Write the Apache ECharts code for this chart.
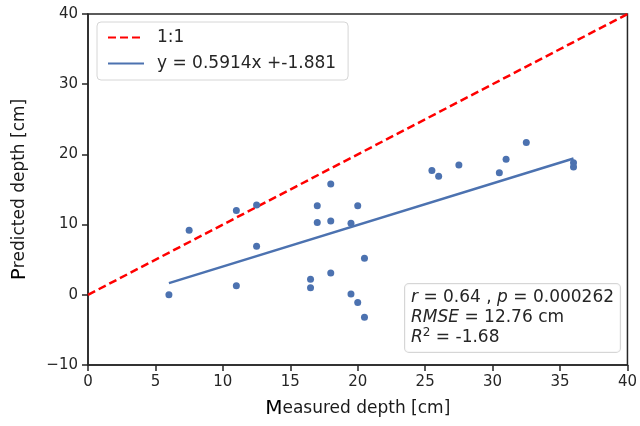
<!DOCTYPE html>
<html>
<head>
<meta charset="utf-8">
<script src="https://cdn.jsdelivr.net/npm/echarts@6/dist/echarts.min.js"></script>
<style>
  html, body { margin: 0; padding: 0; background: #fff; }
  #main { width: 640px; height: 426px; }
</style>
</head>
<body>
<div id="main"></div>
<script>
var measured = [6, 7.5, 11, 11, 12.5, 12.5, 16.5, 16.5, 17, 17, 18, 18, 18, 19.5, 19.5, 20, 20, 20.5, 20.5,
  25.5, 26, 27.5, 30.5, 31, 32.5, 36, 36];
var predicted = [0, 9.2, 12, 1.3, 12.8, 6.9, 2.2, 1.0, 12.7, 10.3, 15.8, 10.5, 3.1, 10.2, 0.1, 12.7, -1.1, 5.2, -3.2,
  17.7, 16.9, 18.5, 17.4, 19.3, 21.7, 18.8, 18.2];

// 1:1 reference and fitted line end points
var oneToOne = [[0, 0], [40, 40]];
var fitLine = [[6, 1.67], [36, 19.41]];

var xTicks = [0, 40, 5];   // min, max, interval
var yTicks = [-10, 40, 10];

var statsText = '{i|r} = 0.64 , {i|p} = 0.000262\n{i|RMSE} = 12.76 cm\n{i|R}{sup|2} = -1.68';

var points = measured.map(function (x, i) { return [x, predicted[i]]; });

var dark = '#262626';
var font = 'DejaVu Sans';

var chart = echarts.init(document.getElementById('main'), null, { renderer: 'canvas' });

var option = {
  backgroundColor: '#ffffff',
  animation: false,
  textStyle: { fontFamily: font },
  grid: {
    left: 88, right: 12, top: 14, bottom: 61,
    show: true, borderColor: dark, borderWidth: 1.5
  },
  legend: {
    orient: 'vertical',
    left: 97, top: 22,
    padding: [7, 12, 8, 10],
    itemGap: 9,
    itemWidth: 36,
    itemHeight: 14,
    itemStyle: { opacity: 0 },
    borderColor: '#d6d6d6',
    borderWidth: 1,
    borderRadius: 4,
    backgroundColor: 'rgba(255,255,255,0.8)',
    textStyle: { fontFamily: font, fontSize: 17, color: dark, padding: [0, 0, 0, 8] },
    data: ['1:1', 'y = 0.5914x +-1.881']
  },
  xAxis: {
    type: 'value',
    min: xTicks[0], max: xTicks[1], interval: xTicks[2],
    name: '{big|M}easured depth [cm]',
    nameLocation: 'middle',
    nameGap: 34,
    nameTextStyle: {
      fontFamily: font, fontSize: 17, color: '#1a1a1a',
      rich: { big: { fontFamily: font, fontSize: 20, color: '#000' } }
    },
    axisLine: { show: true, onZero: false, lineStyle: { color: dark, width: 1.5 } },
    axisTick: { show: true, length: 6, lineStyle: { color: dark, width: 1.5 } },
    axisLabel: { fontFamily: font, fontSize: 15, color: dark, margin: 10 },
    splitLine: { show: false }
  },
  yAxis: {
    type: 'value',
    min: yTicks[0], max: yTicks[1], interval: yTicks[2],
    name: '{big|P}redicted depth [cm]',
    nameLocation: 'middle',
    nameGap: 58,
    nameRotate: 90,
    nameTextStyle: {
      fontFamily: font, fontSize: 17, color: '#1a1a1a',
      rich: { big: { fontFamily: font, fontSize: 20, color: '#000' } }
    },
    axisLine: { show: true, onZero: false, lineStyle: { color: dark, width: 1.5 } },
    axisTick: { show: true, length: 6, lineStyle: { color: dark, width: 1.5 } },
    axisLabel: {
      fontFamily: font, fontSize: 15, color: dark, margin: 10,
      formatter: function (v) { return String(v).replace('-', '\u2212'); }
    },
    splitLine: { show: false }
  },
  series: [
    {
      name: '1:1',
      type: 'line',
      data: oneToOne,
      symbol: 'none',
      lineStyle: { color: '#ff0000', width: 2.5, type: [8, 4] },
      itemStyle: { color: '#ff0000' },
      z: 3
    },
    {
      name: 'y = 0.5914x +-1.881',
      type: 'line',
      data: fitLine,
      symbol: 'none',
      lineStyle: { color: '#4c72b0', width: 2.5 },
      itemStyle: { color: '#4c72b0' },
      z: 3
    },
    {
      name: 'data',
      type: 'scatter',
      data: points,
      symbolSize: 7,
      itemStyle: { color: '#4c72b0', opacity: 1 },
      z: 4
    }
  ],
  graphic: [
    {
      type: 'text',
      left: 404, top: 283,
      z: 10,
      style: {
        text: statsText,
        fontFamily: font,
        fontSize: 17,
        lineHeight: 20,
        fill: dark,
        backgroundColor: 'rgba(255,255,255,0.8)',
        borderColor: '#d6d6d6',
        borderWidth: 1,
        borderRadius: 4,
        padding: [4, 6, 4, 6],
        rich: {
          i: { fontFamily: font, fontSize: 17, fontStyle: 'italic', fill: dark, lineHeight: 20 },
          sup: { fontFamily: font, fontSize: 12, fill: dark, lineHeight: 12, verticalAlign: 'bottom', padding: [0, 0, 9, 0] }
        }
      }
    }
  ]
};

chart.setOption(option);
</script>
</body>
</html>
